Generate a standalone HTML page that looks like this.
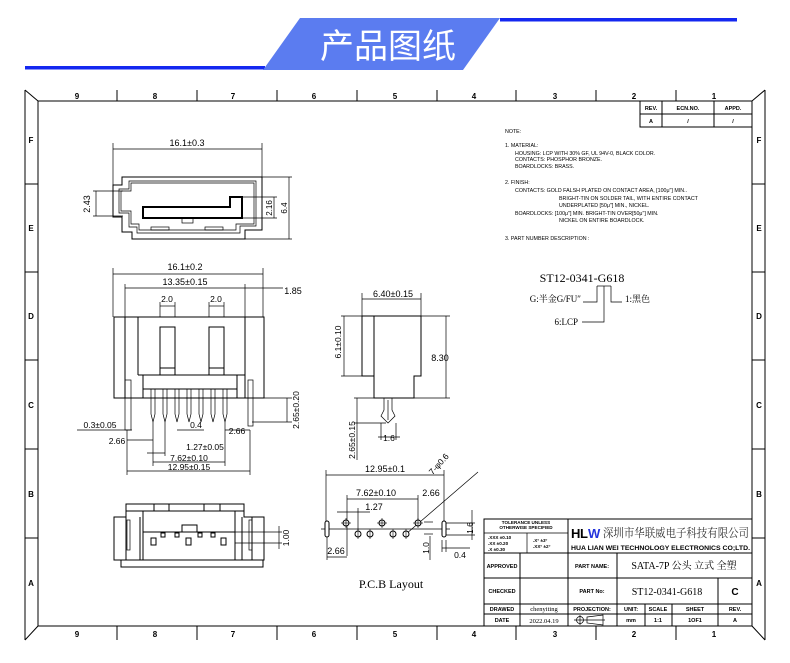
<!DOCTYPE html>
<html><head><meta charset="utf-8"><style>
html,body{margin:0;padding:0;background:#fff;}
svg{display:block;}
text{font-family:"Liberation Sans","Noto Sans CJK SC",sans-serif;fill:#000;}
.s{font-family:"Liberation Serif","Noto Serif CJK SC",serif;}
.l{stroke:#000;fill:none;stroke-width:1;}
.t{stroke:#000;fill:none;stroke-width:0.7;}
</style></head><body>
<svg width="790" height="663" viewBox="0 0 790 663" xmlns="http://www.w3.org/2000/svg">
<!-- header -->
<rect x="25" y="66" width="240" height="3.5" fill="#1428f0"/>
<polygon points="300,18 500,18 463,70 263,70" fill="#5b7cf0"/>
<rect x="500" y="18" width="237" height="3.5" fill="#1428f0"/>
<text x="388" y="58" font-size="34" text-anchor="middle" style="fill:#fff">产品图纸</text>

<!-- frame -->
<g class="l">
<line x1="38" y1="101" x2="752" y2="101"/>
<line x1="38" y1="101" x2="38" y2="626"/>
<line x1="752" y1="101" x2="752" y2="626"/>
<line x1="38" y1="626" x2="752" y2="626"/>
<line x1="25" y1="90" x2="38" y2="101"/>
<line x1="765" y1="90" x2="752" y2="101"/>
<line x1="25" y1="640" x2="38" y2="626"/>
<line x1="765" y1="640" x2="752" y2="626"/>
<line x1="25" y1="90" x2="25" y2="640"/>
<line x1="765" y1="90" x2="765" y2="640"/>
</g>
<g class="l">
<line x1="117" y1="90" x2="117" y2="101"/><line x1="197" y1="90" x2="197" y2="101"/><line x1="277" y1="90" x2="277" y2="101"/><line x1="357" y1="90" x2="357" y2="101"/><line x1="437" y1="90" x2="437" y2="101"/><line x1="516" y1="90" x2="516" y2="101"/><line x1="596" y1="90" x2="596" y2="101"/><line x1="676" y1="90" x2="676" y2="101"/>
<line x1="117" y1="626" x2="117" y2="640"/><line x1="197" y1="626" x2="197" y2="640"/><line x1="277" y1="626" x2="277" y2="640"/><line x1="357" y1="626" x2="357" y2="640"/><line x1="437" y1="626" x2="437" y2="640"/><line x1="516" y1="626" x2="516" y2="640"/><line x1="596" y1="626" x2="596" y2="640"/><line x1="676" y1="626" x2="676" y2="640"/>
<line x1="25" y1="184" x2="38" y2="184"/><line x1="25" y1="272" x2="38" y2="272"/><line x1="25" y1="360" x2="38" y2="360"/><line x1="25" y1="449" x2="38" y2="449"/><line x1="25" y1="538" x2="38" y2="538"/>
<line x1="752" y1="184" x2="765" y2="184"/><line x1="752" y1="272" x2="765" y2="272"/><line x1="752" y1="360" x2="765" y2="360"/><line x1="752" y1="449" x2="765" y2="449"/><line x1="752" y1="538" x2="765" y2="538"/>
</g>
<g font-size="8" font-weight="bold" text-anchor="middle">
<text x="77" y="99">9</text><text x="155" y="99">8</text><text x="233" y="99">7</text><text x="314" y="99">6</text><text x="395" y="99">5</text><text x="474" y="99">4</text><text x="555" y="99">3</text><text x="634" y="99">2</text><text x="714" y="99">1</text>
<text x="77" y="637">9</text><text x="155" y="637">8</text><text x="233" y="637">7</text><text x="314" y="637">6</text><text x="395" y="637">5</text><text x="474" y="637">4</text><text x="555" y="637">3</text><text x="634" y="637">2</text><text x="714" y="637">1</text>
<text x="31" y="143">F</text><text x="31" y="231">E</text><text x="31" y="319">D</text><text x="31" y="408">C</text><text x="31" y="497">B</text><text x="31" y="586">A</text>
<text x="759" y="143">F</text><text x="759" y="231">E</text><text x="759" y="319">D</text><text x="759" y="408">C</text><text x="759" y="497">B</text><text x="759" y="586">A</text>
</g>

<!-- rev table -->
<g class="l"><rect x="640" y="101" width="112" height="26"/><line x1="640" y1="114" x2="752" y2="114"/><line x1="662" y1="101" x2="662" y2="127"/><line x1="714" y1="101" x2="714" y2="127"/></g>
<g font-size="5.5" font-weight="bold" text-anchor="middle"><text x="651" y="110">REV.</text><text x="688" y="110">ECN.NO.</text><text x="733" y="110">APPD.</text><text x="651" y="123">A</text><text x="688" y="123">/</text><text x="733" y="123">/</text></g>

<!-- notes -->
<g font-size="5.3">
<text x="505" y="133">NOTE:</text>
<text x="505" y="147">1.  MATERIAL:</text>
<text x="515" y="155">HOUSING: LCP WITH 30% GF, UL 94V-0, BLACK COLOR.</text>
<text x="515" y="161">CONTACTS: PHOSPHOR BRONZE.</text>
<text x="515" y="168">BOARDLOCKS: BRASS.</text>
<text x="505" y="184">2.  FINISH:</text>
<text x="515" y="192">CONTACTS:   GOLD FALSH PLATED ON CONTACT AREA,  [100μ"] MIN..</text>
<text x="559" y="200">BRIGHT-TIN ON SOLDER TAIL, WITH ENTIRE CONTACT</text>
<text x="559" y="207">UNDERPLATED   [50μ"] MIN., NICKEL.</text>
<text x="515" y="215">BOARDLOCKS: [100μ"] MIN. BRIGHT-TIN OVER[50μ"] MIN.</text>
<text x="559" y="222">NICKEL ON ENTIRE BOARDLOCK.</text>
<text x="505" y="240">3.  PART NUMBER DESCRIPTION :</text>
</g>

<!-- part number -->
<text class="s" x="582" y="282" font-size="12" text-anchor="middle">ST12-0341-G618</text>
<g class="t"><line x1="597" y1="286" x2="611" y2="286"/><path d="M597,286V302H583"/><path d="M604,286V322H582"/><path d="M611,286V302H622"/></g>
<text class="s" x="581" y="302" font-size="9" text-anchor="end">G:半金G/FU″</text>
<text class="s" x="625" y="302" font-size="9">1:黑色</text>
<text class="s" x="578" y="325" font-size="9" text-anchor="end">6:LCP</text>

<!-- top view -->
<g class="t"><line x1="113" y1="149" x2="262" y2="149"/><line x1="113" y1="143" x2="113" y2="186"/><line x1="262" y1="143" x2="262" y2="178"/>
<line x1="93" y1="191" x2="123" y2="191"/><line x1="93" y1="216" x2="123" y2="216"/><line x1="96" y1="191" x2="96" y2="216"/>
<line x1="242" y1="197" x2="277" y2="197"/><line x1="242" y1="218" x2="277" y2="218"/><line x1="274" y1="197" x2="274" y2="218"/>
<line x1="262" y1="177" x2="292" y2="177"/><line x1="245" y1="239" x2="292" y2="239"/><line x1="289" y1="177" x2="289" y2="239"/></g>
<text x="187" y="146" font-size="9" text-anchor="middle">16.1±0.3</text>
<text x="0" y="0" font-size="9" text-anchor="middle" transform="translate(90,204) rotate(-90)">2.43</text>
<text x="0" y="0" font-size="8" text-anchor="middle" transform="translate(272,208) rotate(-90)">2.16</text>
<text x="0" y="0" font-size="8" text-anchor="middle" transform="translate(287,208) rotate(-90)">6.4</text>
<path class="l" d="M122,177H262V230H245V239H132V232H122V217H113V185H122Z"/>
<path class="t" d="M129,181H256V226H240V233H137V227H129V213H119V189H129Z"/>
<path class="t" d="M131,183H254V224H236V230H139V224H131V211H121V191H131Z"/>
<path d="M143,207H230V197H242V218H143Z" fill="none" stroke="#000" stroke-width="2"/>
<rect class="t" x="182" y="218" width="11" height="5"/><rect class="t" x="151" y="227" width="18" height="3"/><rect class="t" x="205" y="227" width="18" height="3"/>

<!-- front view -->
<g class="t"><line x1="113" y1="274" x2="263" y2="274"/><line x1="113" y1="268" x2="113" y2="317"/><line x1="263" y1="268" x2="263" y2="317"/>
<line x1="125" y1="288" x2="283" y2="288"/><line x1="125" y1="284" x2="125" y2="317"/><line x1="245" y1="284" x2="245" y2="317"/>
<line x1="160" y1="306" x2="175" y2="306"/><line x1="160" y1="302" x2="160" y2="327"/><line x1="175" y1="302" x2="175" y2="327"/>
<line x1="209" y1="306" x2="224" y2="306"/><line x1="209" y1="302" x2="209" y2="327"/><line x1="224" y1="302" x2="224" y2="327"/>
<line x1="264" y1="398" x2="292" y2="398"/><line x1="252" y1="422" x2="292" y2="422"/><line x1="287" y1="398" x2="287" y2="422"/>
<line x1="77" y1="430" x2="132" y2="430"/><line x1="127" y1="430" x2="127" y2="475"/><line x1="250" y1="430" x2="250" y2="475"/>
<line x1="153" y1="422" x2="153" y2="466"/><line x1="225" y1="422" x2="225" y2="466"/><line x1="165" y1="422" x2="165" y2="456"/>
<line x1="147" y1="453" x2="165" y2="453"/><line x1="153" y1="462" x2="225" y2="462"/><line x1="127" y1="471" x2="250" y2="471"/>
<line x1="177" y1="430" x2="204" y2="430"/><line x1="127" y1="440" x2="153" y2="440"/><line x1="225" y1="430" x2="250" y2="430"/></g>
<text x="185" y="270" font-size="9" text-anchor="middle">16.1±0.2</text>
<text x="185" y="285" font-size="9" text-anchor="middle">13.35±0.15</text>
<text x="293" y="294" font-size="9" text-anchor="middle">1.85</text>
<text x="167" y="302" font-size="8.5" text-anchor="middle">2.0</text>
<text x="216" y="302" font-size="8.5" text-anchor="middle">2.0</text>
<text x="0" y="0" font-size="8.5" text-anchor="middle" transform="translate(299,410) rotate(-90)">2.65±0.20</text>
<text x="100" y="428" font-size="8.5" text-anchor="middle">0.3±0.05</text>
<text x="117" y="444" font-size="8.5" text-anchor="middle">2.66</text>
<text x="196" y="428" font-size="8.5" text-anchor="middle">0.4</text>
<text x="237" y="434" font-size="8.5" text-anchor="middle">2.66</text>
<text x="205" y="450" font-size="8.5" text-anchor="middle">1.27±0.05</text>
<text x="189" y="461" font-size="8.5" text-anchor="middle">7.62±0.10</text>
<text x="189" y="470" font-size="8.5" text-anchor="middle">12.95±0.15</text>
<g class="l"><rect x="114" y="317" width="150" height="81" fill="#fff"/>
<line x1="125" y1="317" x2="125" y2="398"/><line x1="138" y1="317" x2="138" y2="375"/><line x1="245" y1="317" x2="245" y2="398"/><line x1="237" y1="375" x2="237" y2="398"/><line x1="143" y1="375" x2="143" y2="398"/>
<line x1="138" y1="375" x2="245" y2="375"/><rect x="143" y="375" width="94" height="14"/>
<rect x="160" y="327" width="15" height="48"/><line x1="160" y1="368" x2="175" y2="368"/>
<rect x="209" y="327" width="15" height="48"/><line x1="209" y1="368" x2="224" y2="368"/></g>
<rect x="143.5" y="389.5" width="93" height="8" fill="#fff"/>
<g class="t" fill="#fff">
<path d="M151,389V414L153,422L155,414V389Z"/><path d="M163,389V414L165,422L167,414V389Z"/><path d="M175,389V414L177,422L179,414V389Z"/><path d="M187,389V414L189,422L191,414V389Z"/><path d="M199,389V414L201,422L203,414V389Z"/><path d="M211,389V414L213,422L215,414V389Z"/><path d="M223,389V414L225,422L227,414V389Z"/>
<rect x="125" y="380" width="6" height="50"/><rect x="248" y="380" width="5" height="46"/></g>

<!-- side view -->
<g class="t"><line x1="362" y1="299" x2="421" y2="299"/><line x1="362" y1="293" x2="362" y2="316"/><line x1="421" y1="293" x2="421" y2="316"/>
<line x1="341" y1="316" x2="362" y2="316"/><line x1="341" y1="376" x2="362" y2="376"/><line x1="344" y1="316" x2="344" y2="376"/>
<line x1="421" y1="316" x2="450" y2="316"/><line x1="414" y1="398" x2="450" y2="398"/><line x1="446" y1="316" x2="446" y2="398"/>
<line x1="354" y1="398" x2="374" y2="398"/><line x1="354" y1="423" x2="386" y2="423"/><line x1="357" y1="398" x2="357" y2="460"/>
<line x1="381" y1="423" x2="381" y2="440"/><line x1="396" y1="423" x2="396" y2="440"/><line x1="378" y1="437" x2="400" y2="437"/></g>
<text x="393" y="297" font-size="9" text-anchor="middle">6.40±0.15</text>
<text x="0" y="0" font-size="8.5" text-anchor="middle" transform="translate(341,342) rotate(-90)">6.1±0.10</text>
<text x="440" y="361" font-size="9" text-anchor="middle">8.30</text>
<text x="0" y="0" font-size="8.5" text-anchor="middle" transform="translate(355,440) rotate(-90)">2.65±0.15</text>
<text x="389" y="441" font-size="8.5" text-anchor="middle">1.6</text>
<g class="l"><rect x="362" y="316" width="12" height="60"/><polygon points="374,316 421,316 421,376 414,376 414,398 374,398"/></g>
<path class="t" d="M384,398V410L381,416L388,423L395,416L392,410V398Z"/><line class="t" x1="388" y1="400" x2="388" y2="420"/>

<!-- bottom view -->
<g class="l">
<path d="M126,504H244V517H264V560H263V567H121V560H114V517H126Z"/>
<line x1="114" y1="560" x2="264" y2="560"/>
<line x1="126" y1="504" x2="126" y2="517"/>
<line x1="126" y1="517" x2="126" y2="560"/><line x1="140" y1="517" x2="140" y2="560"/><line x1="143" y1="511" x2="143" y2="560"/>
<line x1="235" y1="511" x2="235" y2="560"/><line x1="242" y1="517" x2="242" y2="560"/><line x1="252" y1="517" x2="252" y2="560"/>
<line x1="126" y1="511" x2="244" y2="511"/><line x1="143" y1="532" x2="235" y2="532"/>
<line x1="169" y1="504" x2="169" y2="511"/><line x1="204" y1="504" x2="204" y2="511"/><line x1="220" y1="504" x2="220" y2="511"/><line x1="154" y1="504" x2="154" y2="511"/>
<rect x="182" y="525" width="15" height="7"/>
</g>
<g class="t"><rect x="127" y="520" width="3" height="30"/><rect x="249" y="520" width="3" height="30"/>
<line x1="235" y1="532" x2="282" y2="532"/><line x1="235" y1="543" x2="282" y2="543"/><line x1="279" y1="526" x2="279" y2="549"/></g>
<g stroke="#000" stroke-width="1" fill="#fff">
<rect x="161" y="533" width="4" height="4"/><rect x="175" y="533" width="4" height="4"/><rect x="198" y="533" width="4" height="4"/><rect x="211" y="533" width="4" height="4"/>
<rect x="151" y="538" width="5" height="7"/><rect x="186" y="538" width="5" height="7"/><rect x="221" y="538" width="5" height="7"/></g>
<text x="0" y="0" font-size="8.5" text-anchor="middle" transform="translate(289,538) rotate(-90)">1.00</text>

<!-- PCB layout -->
<g class="t">
<line x1="326" y1="475" x2="444" y2="475"/><line x1="326" y1="470" x2="326" y2="522"/><line x1="444" y1="470" x2="444" y2="522"/>
<line x1="347" y1="499" x2="418" y2="499"/><line x1="347" y1="495" x2="347" y2="556"/><line x1="418" y1="495" x2="418" y2="520"/>
<line x1="337" y1="512" x2="370" y2="512"/><line x1="358" y1="508" x2="358" y2="530"/>
<line x1="321" y1="529" x2="450" y2="529"/>
<line x1="327" y1="557" x2="347" y2="557"/><line x1="327" y1="537" x2="327" y2="560"/>
<line x1="406" y1="534" x2="478" y2="472"/>
<line x1="424" y1="522" x2="433" y2="522"/><line x1="430" y1="536" x2="430" y2="560"/><line x1="424" y1="534" x2="433" y2="534"/>
<line x1="444" y1="523" x2="475" y2="523"/><line x1="444" y1="535" x2="475" y2="535"/><line x1="472" y1="510" x2="472" y2="540"/>
<line x1="442" y1="548" x2="470" y2="548"/><line x1="442" y1="540" x2="442" y2="552"/><line x1="446" y1="540" x2="446" y2="552"/>
</g>
<g stroke="#000" stroke-width="1" fill="#fff">
<circle cx="346" cy="523" r="3"/><circle cx="382" cy="523" r="3"/><circle cx="418" cy="523" r="3"/>
<circle cx="358" cy="534" r="3"/><circle cx="370" cy="534" r="3"/><circle cx="393" cy="534" r="3"/><circle cx="406" cy="534" r="3"/>
<rect x="325" y="521" width="4" height="16" rx="2"/><rect x="442" y="521" width="4" height="16" rx="2"/></g>
<g stroke="#000" stroke-width="0.6"><line x1="341" y1="523" x2="351" y2="523"/><line x1="346" y1="518" x2="346" y2="528"/><line x1="377" y1="523" x2="387" y2="523"/><line x1="382" y1="518" x2="382" y2="528"/><line x1="413" y1="523" x2="423" y2="523"/><line x1="418" y1="518" x2="418" y2="528"/><line x1="358" y1="529" x2="358" y2="539"/><line x1="370" y1="529" x2="370" y2="539"/><line x1="393" y1="529" x2="393" y2="539"/><line x1="406" y1="529" x2="406" y2="539"/></g>
<text x="385" y="472" font-size="9" text-anchor="middle">12.95±0.1</text>
<text x="376" y="496" font-size="9" text-anchor="middle">7.62±0.10</text>
<text x="431" y="496" font-size="9" text-anchor="middle">2.66</text>
<text x="374" y="510" font-size="9" text-anchor="middle">1.27</text>
<text x="336" y="554" font-size="9" text-anchor="middle">2.66</text>
<text x="460" y="558" font-size="8.5" text-anchor="middle">0.4</text>
<text x="0" y="0" font-size="8.5" text-anchor="middle" transform="translate(429,548) rotate(-90)">1.0</text>
<text x="0" y="0" font-size="8.5" text-anchor="middle" transform="translate(473,528) rotate(-90)">1.6</text>
<text x="0" y="0" font-size="8.5" text-anchor="middle" transform="translate(441,466) rotate(-48)">7-φ0.6</text>
<text class="s" x="391" y="588" font-size="12" text-anchor="middle">P.C.B  Layout</text>

<!-- title block -->
<g class="l">
<rect x="484" y="519" width="268" height="107"/>
<line x1="484" y1="553" x2="752" y2="553"/><line x1="484" y1="578" x2="752" y2="578"/><line x1="484" y1="604" x2="752" y2="604"/><line x1="484" y1="614" x2="752" y2="614"/>
<line x1="568" y1="519" x2="568" y2="626"/><line x1="520" y1="553" x2="520" y2="626"/><line x1="617" y1="553" x2="617" y2="626"/>
<line x1="718" y1="578" x2="718" y2="626"/><line x1="645" y1="604" x2="645" y2="626"/><line x1="672" y1="604" x2="672" y2="626"/>
</g>
<g class="t"><line x1="484" y1="533" x2="568" y2="533"/><line x1="527" y1="533" x2="527" y2="553"/></g>
<g font-size="4.6" font-weight="bold" text-anchor="middle"><text x="526" y="524">TOLERANCE UNLESS</text><text x="526" y="529">OTHERWISE SPECIFIED</text></g>
<g font-size="4.6" font-weight="bold"><text x="488" y="539">.XXX ±0.10</text><text x="488" y="545">.XX   ±0.20</text><text x="488" y="551">.X     ±0.30</text><text x="533" y="542">.X°    ±3°</text><text x="533" y="548">.XX°  ±2°</text></g>
<text x="571" y="538" font-size="13" font-weight="bold">H</text>
<text x="580" y="538" font-size="13" font-weight="bold">L</text>
<text x="588" y="538" font-size="13" font-weight="bold" style="fill:#2233dd">W</text>
<text class="s" x="603" y="537" font-size="12" textLength="146" lengthAdjust="spacingAndGlyphs" style="fill:#333">深圳市华联威电子科技有限公司</text>
<text x="571" y="550" font-size="6.3" font-weight="bold" textLength="179" lengthAdjust="spacingAndGlyphs">HUA LIAN WEI TECHNOLOGY ELECTRONICS CO;LTD.</text>
<g font-size="5.5" font-weight="bold" text-anchor="middle">
<text x="502" y="568">APPROVED</text><text x="502" y="593">CHECKED</text><text x="502" y="611">DRAWED</text><text x="502" y="622">DATE</text>
<text x="592" y="568">PART NAME:</text><text x="592" y="593">PART No:</text><text x="592" y="611">PROJECTION:</text>
<text x="631" y="611">UNIT:</text><text x="658" y="611">SCALE</text><text x="695" y="611">SHEET</text><text x="735" y="611">REV.</text>
<text x="631" y="622">mm</text><text x="658" y="622">1:1</text><text x="695" y="622">1OF1</text><text x="735" y="622">A</text></g>
<text class="s" x="544" y="611" font-size="6.5" text-anchor="middle">chenyiting</text>
<text class="s" x="544" y="623" font-size="6.5" text-anchor="middle">2022.04.19</text>
<text class="s" x="684" y="569" font-size="10" text-anchor="middle">SATA-7P 公头 立式 全塑</text>
<text class="s" x="667" y="595" font-size="10" text-anchor="middle">ST12-0341-G618</text>
<text x="735" y="595" font-size="10" font-weight="bold" text-anchor="middle">C</text>
<g class="t"><circle cx="580" cy="620" r="3.5"/><line x1="574" y1="620" x2="605" y2="620"/><line x1="580" y1="615" x2="580" y2="625"/><path d="M587,617L603,615V625L587,623Z"/></g>
</svg>
</body></html>
